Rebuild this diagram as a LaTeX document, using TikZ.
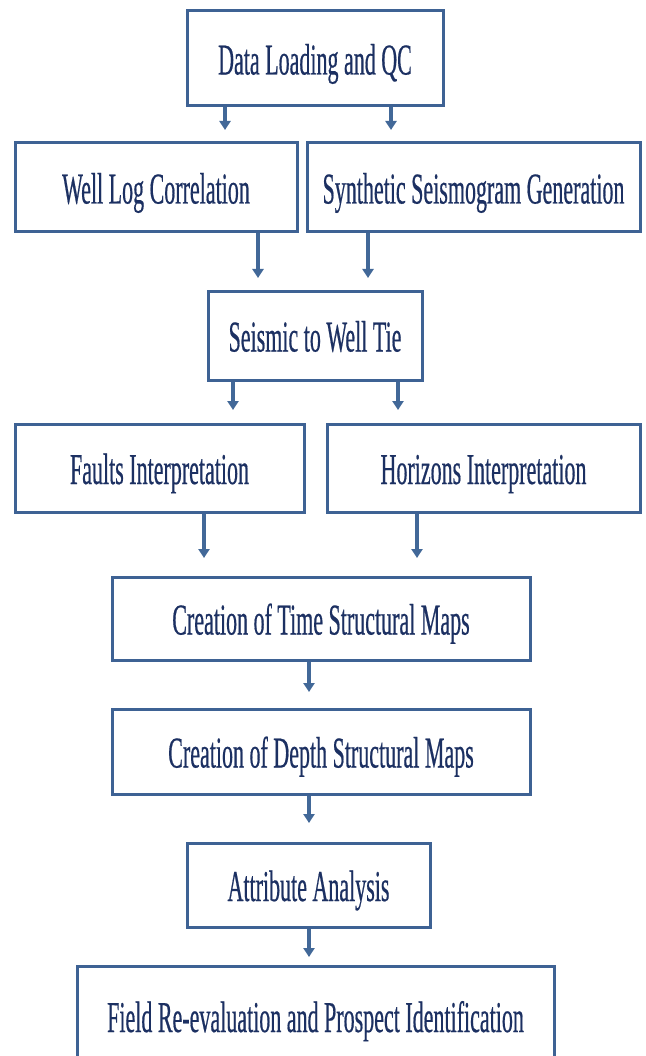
\documentclass[tikz,border=0pt]{standalone}
\usepackage{fontspec}
\setmainfont{Liberation Serif}[FakeStretch=0.5,FakeBold=0.4]
\usetikzlibrary{arrows.meta}
\definecolor{boxline}{RGB}{62,98,148}
\definecolor{txt}{RGB}{28,48,98}
\definecolor{arrowc}{RGB}{66,104,152}
\begin{document}
\begin{tikzpicture}[x=1pt,y=-1pt,
  stage/.style={draw=boxline, line width=3pt, fill=white, inner sep=0pt, text=txt,
    font=\fontsize{44}{50}\selectfont, text height=33pt, text depth=1pt, minimum width=#1},
  arr/.style={draw=arrowc, line width=3.5pt, -{Triangle[width=11pt,length=9pt]}}]
\useasboundingbox (0,0) rectangle (645,1056);
\fill[white] (0,0) rectangle (645,1056);
\node[stage=256pt, minimum height=95pt] (b1) at (315,58.5) {Data Loading and QC};
\node[stage=282pt, minimum height=89pt] (b2) at (156,187.5) {Well Log Correlation};
\node[stage=333pt, minimum height=89pt] (b3) at (473.5,187.5) {Synthetic Seismogram Generation};
\node[stage=214pt, minimum height=89pt] (b4) at (315,335.5) {Seismic to Well Tie};
\node[stage=289pt, minimum height=88pt] (b5) at (159.5,468) {Faults Interpretation};
\node[stage=313pt, minimum height=88pt] (b6) at (483.5,468) {Horizons Interpretation};
\node[stage=418pt, minimum height=83pt] (b7) at (321,618.5) {Creation of Time Structural Maps};
\node[stage=418pt, minimum height=85pt] (b8) at (321,751.5) {Creation of Depth Structural Maps};
\node[stage=243pt, minimum height=84pt] (b9) at (308.5,885) {Attribute Analysis};
\node[stage=477pt, minimum height=100pt] (b10) at (315.5,1016) {Field Re-evaluation and Prospect Identification};
\coordinate (a1) at (225,130);
\coordinate (a2) at (391,130);
\coordinate (a3) at (258,278);
\coordinate (a4) at (368,278);
\coordinate (a5) at (233,410);
\coordinate (a6) at (398,410);
\coordinate (a7) at (204,558);
\coordinate (a8) at (417,558);
\coordinate (a9) at (309,692);
\coordinate (a10) at (309,823);
\coordinate (a11) at (309,957);
\draw[arr] (b1.south -| a1) -- (a1);
\draw[arr] (b1.south -| a2) -- (a2);
\draw[arr] (b2.south -| a3) -- (a3);
\draw[arr] (b3.south -| a4) -- (a4);
\draw[arr] (b4.south -| a5) -- (a5);
\draw[arr] (b4.south -| a6) -- (a6);
\draw[arr] (b5.south -| a7) -- (a7);
\draw[arr] (b6.south -| a8) -- (a8);
\draw[arr] (b7.south -| a9) -- (a9);
\draw[arr] (b8.south -| a10) -- (a10);
\draw[arr] (b9.south -| a11) -- (a11);
\end{tikzpicture}
\end{document}
